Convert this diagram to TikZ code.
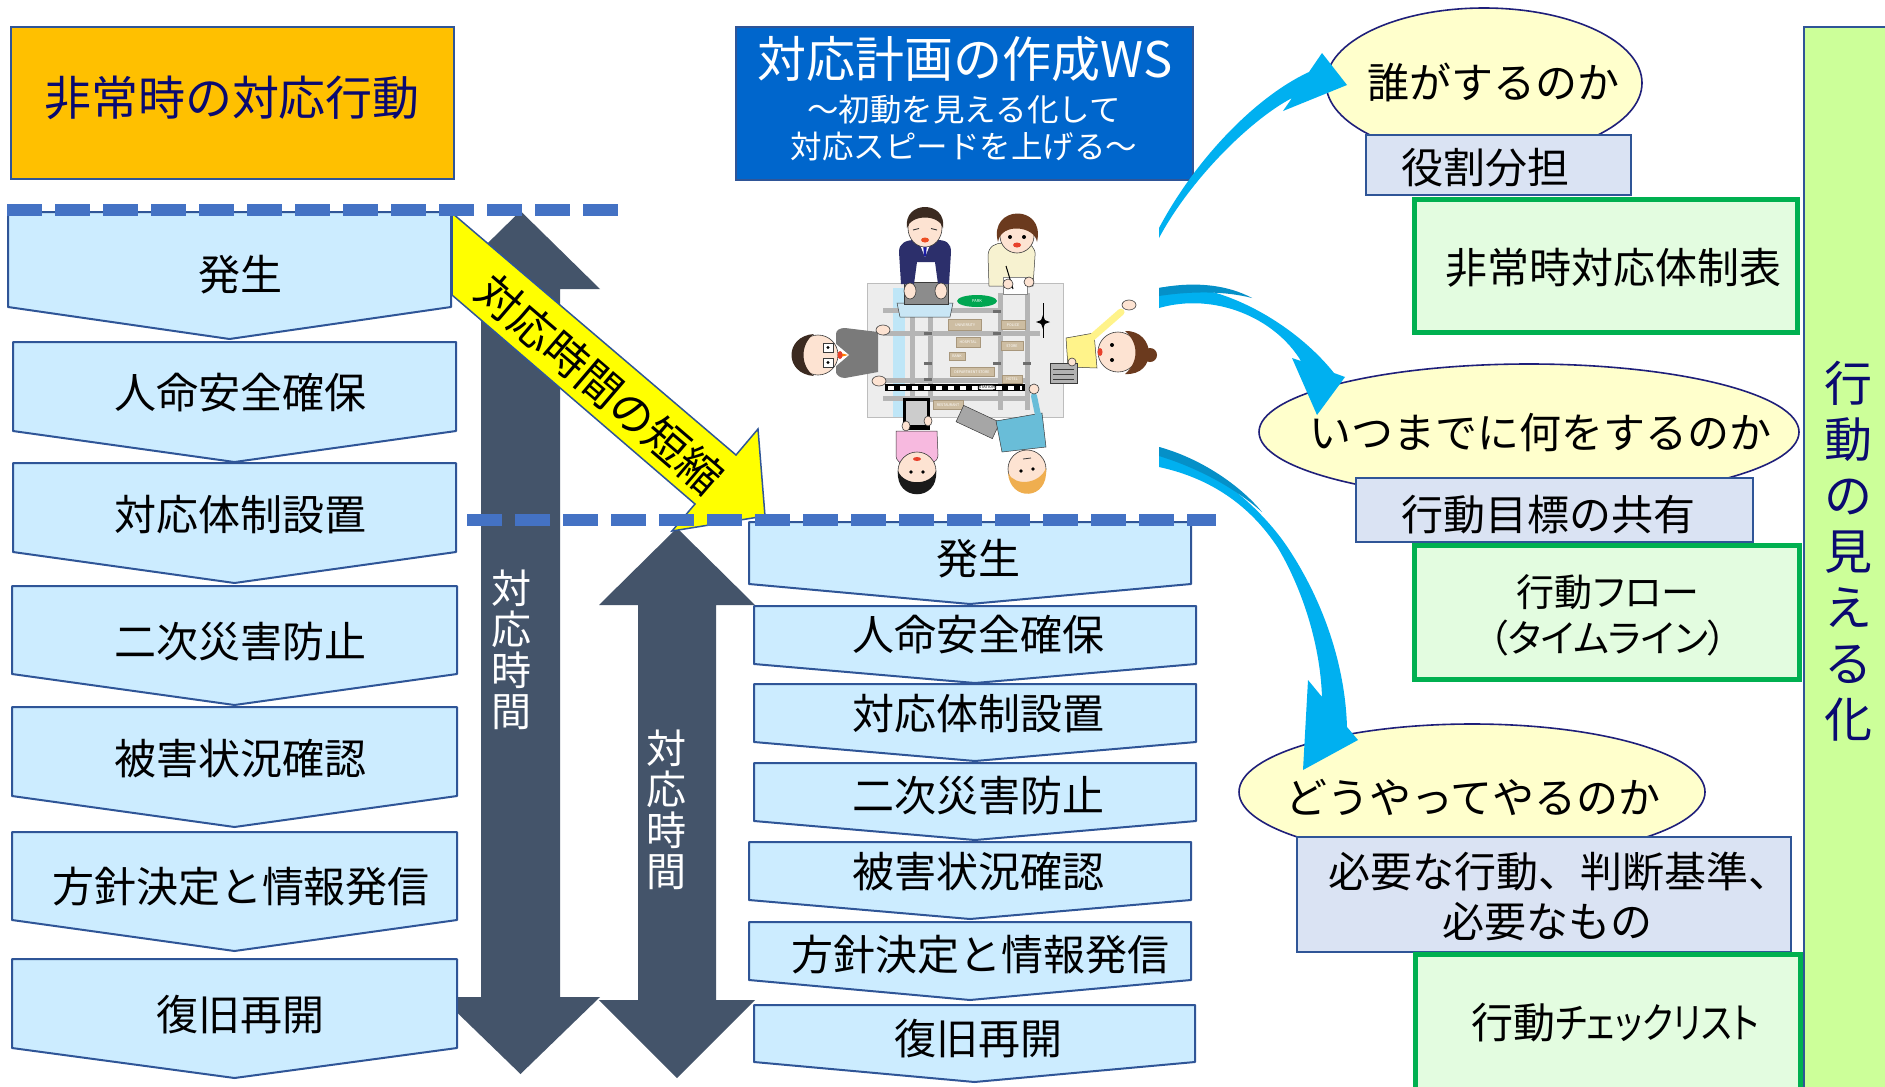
\documentclass[tikz,border=0pt]{standalone}
\usepackage{fontspec}
\setmainfont{Noto Sans CJK JP}
\newfontfamily\jpprop[RawFeature=+palt]{Noto Sans CJK JP}
\usetikzlibrary{shapes.geometric}

\definecolor{chevfill}{HTML}{CCECFF}
\definecolor{edgeblue}{HTML}{2F5597}
\definecolor{slate}{HTML}{44546A}
\definecolor{dashblue}{HTML}{4472C4}
\definecolor{orangeT}{HTML}{FFC000}
\definecolor{wsblue}{HTML}{0066CC}
\definecolor{creamY}{HTML}{FFFFCC}
\definecolor{ellEdge}{HTML}{1F1F7A}
\definecolor{lavender}{HTML}{DAE3F3}
\definecolor{greenEdge}{HTML}{00B050}
\definecolor{greenFill}{HTML}{E3FCE0}
\definecolor{barGreen}{HTML}{CCFF99}
\definecolor{navyText}{HTML}{0A0A70}
\definecolor{cyanArrow}{HTML}{00B0F0}
\definecolor{cyanDark}{HTML}{0590C8}
\definecolor{shortYellow}{HTML}{FFFF00}
% illustration colours
\definecolor{skin}{HTML}{FDE3D2}
\definecolor{outline}{HTML}{3A3A3A}
\definecolor{hairDark}{HTML}{3B2A20}
\definecolor{hairBrown}{HTML}{6B3A1E}
\definecolor{hairBlack}{HTML}{1A1A1A}
\definecolor{blonde}{HTML}{EFAE4F}
\definecolor{suitNavy}{HTML}{2C2F6B}
\definecolor{creamShirt}{HTML}{F7F2D0}
\definecolor{graySuit}{HTML}{7A7A7A}
\definecolor{yellowShirt}{HTML}{FFF38A}
\definecolor{pinkShirt}{HTML}{F7B9DF}
\definecolor{tealShirt}{HTML}{69BDD8}
\definecolor{tableGray}{HTML}{EDEDED}
\definecolor{tableEdge}{HTML}{BDBDBD}
\definecolor{roadGray}{HTML}{B5B5B5}
\definecolor{riverBlue}{HTML}{BFE6F7}
\definecolor{bldg}{HTML}{CDBDA2}
\definecolor{bldgEdge}{HTML}{A8977C}
\definecolor{parkGreen}{HTML}{00A651}
\definecolor{mouthRed}{HTML}{E8412C}
\definecolor{laptopGray}{HTML}{8C8C8C}
\definecolor{laptopLight}{HTML}{C9E6F5}

\tikzset{
  chevbox/.style={fill=chevfill, draw=edgeblue, line width=2pt, line join=round},
  chevtext/.style={font=\fontsize{42}{48}\selectfont, inner sep=0pt, text=black},
  vtext/.style={font=\fontsize{40}{41}\selectfont, text=white, align=center, inner sep=0pt},
  dashline/.style={draw=dashblue, line width=12pt, dash pattern=on 35pt off 13pt},
  ellbox/.style={fill=creamY, draw=ellEdge, line width=1.6pt},
  lavbox/.style={fill=lavender, draw=edgeblue, line width=2.2pt},
  grnbox/.style={fill=greenFill, draw=greenEdge, line width=5pt},
  bigtext/.style={font=\fontsize{42}{50}\selectfont, inner sep=0pt, align=center, text=black},
  road/.style={draw=roadGray, line width=5pt},
  bldgbox/.style={fill=bldg, draw=bldgEdge, line width=0.6pt, inner sep=0pt,
    text=white, font=\fontsize{3.6}{4}\selectfont},
  skinpart/.style={fill=skin, draw=outline, line width=0.6pt},
  tlight/.style={fill=roadGray!60!black, inner sep=0pt, minimum width=8pt, minimum height=3pt},
}

\newcommand\chevron[5]{%
  \draw[chevbox] (#1,#3) -- (#2,#3) -- (#2,#4) -- ({(#1+#2)/2},#5) -- (#1,#4) -- cycle;}

\begin{document}
\begin{tikzpicture}[x=1pt,y=-1pt]
\useasboundingbox (0,0) rectangle (1885,1087);
\fill[white] (0,0) rectangle (1885,1087);

% ---------- header of the left column ----------
\draw[fill=orangeT, draw=edgeblue, line width=2pt] (11,27) rectangle (454,179);
\node[font=\fontsize{47}{50}\selectfont, text=navyText, inner sep=0pt] (htitle) at (232,98) {非常時の対応行動};

% ---------- response-time arrows ----------
\fill[slate] (520.5,211) -- (600,289) -- (560,289) -- (560,997) -- (600,997) -- (520.5,1074)
  -- (441,997) -- (481,997) -- (481,289) -- (441,289) -- cycle;
\fill[slate] (677,528) -- (755,605) -- (716,605) -- (716,1000) -- (755,1000) -- (677,1078)
  -- (599,1000) -- (638,1000) -- (638,605) -- (599,605) -- cycle;

% ---------- left flow (before) ----------
\chevron{8}{451}{212}{307}{339}
\chevron{13}{456}{342}{431}{462}
\chevron{13}{456}{463}{552}{583}
\chevron{12}{457}{586}{674}{705}
\chevron{12}{457}{707}{796}{827}
\chevron{12}{457}{832}{920}{951}
\chevron{12}{457}{959}{1048}{1078}
\node[chevtext] (l1) at (240,275) {発生};
\node[chevtext] (l2) at (240,393) {人命安全確保};
\node[chevtext] (l3) at (240,515) {対応体制設置};
\node[chevtext] (l4) at (240,642) {二次災害防止};
\node[chevtext] (l5) at (240,759) {被害状況確認};
\node[chevtext] (l6) at (241,887) {方針決定と情報発信};
\node[chevtext] (l7) at (240,1015) {復旧再開};

% ---------- right flow (after) ----------
\chevron{749}{1191}{522}{584}{604}
\chevron{754}{1196}{606}{664}{683}
\chevron{754}{1196}{684}{742}{761}
\chevron{754}{1196}{763}{821}{840}
\chevron{749}{1191}{842}{900}{919}
\chevron{749}{1191}{922}{980}{1000}
\chevron{754}{1195}{1005}{1062}{1082}
\node[chevtext] (r1) at (978,559) {発生};
\node[chevtext] (r2) at (978,635) {人命安全確保};
\node[chevtext] (r3) at (978,714) {対応体制設置};
\node[chevtext] (r4) at (978,796) {二次災害防止};
\node[chevtext] (r5) at (978,872) {被害状況確認};
\node[chevtext] (r6) at (980,955) {方針決定と情報発信};
\node[chevtext] (r7) at (978,1039) {復旧再開};

% ---------- shortening arrow ----------
\draw[fill=shortYellow, draw=edgeblue, line width=1.5pt, line join=miter]
  (452,213) -- (736,455) -- (758,429) -- (765,516) -- (672,531) -- (695,504) -- (452,295) -- cycle;
\node[font=\fontsize{44}{48}\selectfont, inner sep=0pt, rotate=-40.6] (short) at (600,384) {対応時間の短縮};

% ---------- time-line markers ----------
\draw[dashline] (7,210) -- (619,210);
\draw[dashline] (467,520) -- (1216,520);

\node[vtext] (tl) at (511,650) {対\\応\\時\\間};
\node[vtext] (tr) at (666,810) {対\\応\\時\\間};

% ---------- workshop title ----------
\draw[fill=wsblue, draw=edgeblue, line width=1.5pt] (736,27) rectangle (1193,180);
\node[text=white, font=\fontsize{49}{52}\selectfont, inner sep=0pt] (wst) at (965,59) {対応計画の作成WS};
\node[text=white, font=\fontsize{31.5}{37}\selectfont, align=center, inner sep=0pt] (wss) at (964,128)
  {～初動を見える化して\\対応スピードを上げる～};

% ---------- workshop scene: people around a map ----------
\draw[fill=tableGray, draw=tableEdge, line width=1pt] (867,283) rectangle (1063,417);
\fill[riverBlue] (893,288) rectangle (905,417);
\draw[road] (883,310) -- (1000,310);
\draw[road] (883,333) -- (1040,333);
\draw[road] (883,380) -- (1027,380);
\draw[road] (883,398) -- (1027,398);
\draw[road] (912,317) -- (912,417);
\draw[road] (930,317) -- (930,402);
\draw[road] (1000,293) -- (1000,410);
\draw[road] (1027,293) -- (1027,410);
\node[ellipse, fill=parkGreen, minimum width=40pt, minimum height=12pt, inner sep=0pt,
  text=white, font=\fontsize{4}{4}\selectfont] (park) at (977,301) {PARK};
\node[bldgbox, minimum width=33pt, minimum height=11pt] (univ) at (965,325) {UNIVERSITY};
\node[bldgbox, minimum width=24pt, minimum height=9pt] (police) at (1013,325) {POLICE};
\node[bldgbox, minimum width=24pt, minimum height=10pt] (hosp) at (968,342) {HOSPITAL};
\node[bldgbox, minimum width=22pt, minimum height=9pt] (store) at (1012,346) {STORE};
\node[bldgbox, minimum width=16pt, minimum height=8pt] (bank) at (957,356) {BANK};
\node[bldgbox, minimum width=44pt, minimum height=9pt] (dept) at (972,372) {DEPARTMENT STORE};
\node[bldgbox, minimum width=20pt, minimum height=8pt] (hotel) at (1012,379) {HOTEL};
\node[bldgbox, minimum width=30pt, minimum height=9pt] (rest) at (948,405) {RESTAURANT};
\fill[black] (885,384) rectangle (1025,391);
\draw[white, line width=4pt, dash pattern=on 6pt off 6pt] (888,387.5) -- (1022,387.5);
\node[draw=black, fill=white, rounded corners=3pt, inner sep=0.8pt, font=\fontsize{4}{4}\selectfont] (stn) at (987,387.5) {STATION};
\node[tlight] (tl1) at (997,311) {};
\node[tlight] (tl2) at (928,333) {};
\node[tlight] (tl3) at (997,333) {};
\node[tlight] (tl4) at (928,363) {};
\node[tlight] (tl5) at (997,363) {};
\node[tlight] (tl6) at (1027,363) {};
\node[tlight] (tl7) at (928,379) {};
\draw[black, line width=0.8pt] (1043,303) -- (1043,338);
\node[star, star points=4, star point ratio=2.6, fill=black, minimum size=14pt, inner sep=0pt] (compass) at (1043,322) {};

% man at the laptop
\fill[laptopLight, draw=outline, line width=0.5pt] (897,303) -- (953,303) -- (950,317) -- (900,317) -- cycle;
\fill[laptopGray, draw=outline, line width=0.5pt] (904,282) rectangle (948,304);
\fill[suitNavy] (901,284) -- (899,252) .. controls (899,243) and (906,240) .. (915,240) -- (937,240)
  .. controls (946,240) and (951,243) .. (951,252) -- (949,284) -- (938,284) -- (935,262) -- (917,262) -- (914,284) -- cycle;
\fill[white] (918,240) -- (932,240) -- (925,257) -- cycle;
\fill[suitNavy!60!blue] (923,243) -- (927,243) -- (926,256) -- (924,256) -- cycle;
\fill[skinpart] (910,291) ellipse [x radius=6pt, y radius=8pt];
\fill[skinpart] (941,291) ellipse [x radius=6pt, y radius=8pt];
\draw[skinpart] (925,228) ellipse [x radius=17pt, y radius=19pt];
\fill[hairDark] (907,228) .. controls (903,200) and (947,200) .. (943,228) .. controls (939,214) and (911,214) .. (907,228) -- cycle;
\draw[outline, line width=0.9pt] (913,230) -- (919,228.5) (931,228.5) -- (937,230);
\fill[mouthRed!80!orange] (925,240) ellipse [x radius=4pt, y radius=2.5pt];

% woman writing notes
\fill[creamShirt, draw=outline, line width=0.5pt] (989,286) -- (988,256) .. controls (988,246) and (996,243) .. (1003,243)
  -- (1022,243) .. controls (1031,243) and (1036,248) .. (1035,256) -- (1033,286) -- cycle;
\fill[white, draw=outline!60, line width=0.5pt] (1003,277) rectangle (1027,294);
\draw[black, line width=1pt] (1006,266) -- (1013,289);
\fill[skinpart] (1008,284) circle [radius=5pt];
\fill[skinpart] (1029,282) circle [radius=5pt];
\draw[skinpart] (1017,236) circle [radius=17pt];
\fill[hairBrown] (998,242) .. controls (988,205) and (1046,203) .. (1037,242) .. controls (1035,226) and (1001,222) .. (998,242) -- cycle;
\fill[black] (1010,237) circle [radius=2pt] (1024,237) circle [radius=2pt];
\fill[mouthRed] (1017,245) ellipse [x radius=4pt, y radius=2.5pt];

% man with glasses
\fill[graySuit] (836,334) .. controls (836,330) and (840,328) .. (845,328) -- (878,332) -- (878,372) -- (845,378)
  .. controls (840,378) and (836,375) .. (836,372) -- cycle;
\fill[white] (836,344) -- (849,355) -- (836,366) -- cycle;
\fill[orange] (837,352) -- (848,355) -- (837,358) -- cycle;
\fill[skinpart] (883,330) ellipse [x radius=7pt, y radius=5pt];
\fill[skinpart] (879,381) ellipse [x radius=7pt, y radius=5pt];
\draw[skinpart] (818,355) circle [radius=20pt];
\fill[hairDark] (814,334) .. controls (784,336) and (784,374) .. (814,376) .. controls (800,366) and (800,344) .. (814,334) -- cycle;
\draw[outline, fill=white, line width=0.7pt] (823,343) rectangle (833,352) (823,358) rectangle (833,367);
\fill[black] (828,347.5) circle [radius=1.6pt] (828,362.5) circle [radius=1.6pt];
\fill[mouthRed] (840,355) ellipse [x radius=2.5pt, y radius=4pt];

% woman waving
\fill[yellowShirt, draw=outline, line width=0.5pt] (1066,338) -- (1094,333) -- (1097,368) -- (1068,367) -- cycle;
\draw[yellowShirt, line width=7pt, line cap=round] (1089,340) -- (1121,312);
\fill[skinpart] (1129,305) ellipse [x radius=7pt, y radius=5pt];
\fill[gray!60, draw=outline, line width=0.5pt] (1050,363) rectangle (1077,383);
\draw[outline, line width=0.4pt] (1053,369) -- (1074,369) (1053,374) -- (1074,374) (1053,379) -- (1074,379);
\fill[skinpart] (1072,362) circle [radius=4pt];
\draw[skinpart] (1118,352) circle [radius=20pt];
\fill[hairBrown] (1125,331) .. controls (1156,330) and (1158,376) .. (1125,374) .. controls (1139,362) and (1139,343) .. (1125,331) -- cycle;
\fill[hairBrown] (1150,355) circle [radius=7pt];
\fill[black] (1112,345) circle [radius=2pt] (1112,360) circle [radius=2pt];
\fill[mouthRed] (1100,352) ellipse [x radius=2.5pt, y radius=4pt];

% woman with a tablet
\fill[black] (903,398) rectangle (930,430);
\fill[gray!40] (906,401) rectangle (927,425);
\fill[skinpart] (906,426) ellipse [x radius=4pt, y radius=5pt];
\fill[skinpart] (928,421) ellipse [x radius=4pt, y radius=5pt];
\fill[pinkShirt, draw=outline, line width=0.5pt] (896,431) -- (937,431) -- (938,455) .. controls (938,462) and (930,465) .. (925,465)
  -- (908,465) .. controls (902,465) and (896,462) .. (896,455) -- cycle;
\draw[skinpart] (917,471) circle [radius=19pt];
\fill[hairBlack] (898,471) .. controls (895,502) and (939,502) .. (936,471) .. controls (930,486) and (904,486) .. (898,471) -- cycle;
\fill[black] (911,472) circle [radius=1.8pt] (923,472) circle [radius=1.8pt];
\fill[mouthRed] (917,459) ellipse [x radius=4pt, y radius=2pt];

% person with a binder
\fill[gray!70, draw=outline, line width=0.5pt, rotate around={-25:(978,422)}] (958,413) rectangle (998,431);
\fill[tealShirt, draw=outline, line width=0.5pt] (996,421) -- (1042,413) -- (1046,447) -- (1002,452) -- cycle;
\draw[tealShirt, line width=6pt, line cap=round] (1038,415) -- (1034,396);
\fill[skinpart] (1034,389) circle [radius=5pt];
\draw[skinpart] (1027,469) circle [radius=19pt];
\fill[blonde] (1008,473) .. controls (1010,502) and (1049,501) .. (1046,468) .. controls (1040,484) and (1015,487) .. (1008,473) -- cycle;
\fill[black] (1021,471) circle [radius=1.8pt] (1033,469) circle [radius=1.8pt];
\draw[outline, line width=0.8pt] (1023,459) -- (1031,458);

% ---------- questions and outputs ----------
\draw[ellbox] (1484,83) ellipse [x radius=158pt, y radius=75pt];
\node[bigtext] (who) at (1493,82) {誰がするのか};
\draw[lavbox] (1366,135) rectangle (1631,195);
\node[bigtext] (role) at (1485,168) {役割分担};
\draw[grnbox] (1414.5,199.5) rectangle (1797.5,332.5);
\node[bigtext] (table) at (1613,268) {非常時対応体制表};

\draw[ellbox] (1529,432) ellipse [x radius=270pt, y radius=68pt];
\node[bigtext] (when) at (1540,433) {いつまでに何をするのか};
\draw[lavbox] (1356,478) rectangle (1753,542);
\node[bigtext] (goal) at (1548,515) {行動目標の共有};
\draw[grnbox] (1414.5,545.5) rectangle (1799.5,679.5);
\node[font=\jpprop\fontsize{38}{46}\selectfont, align=center, inner sep=0pt] (flow) at (1608,615) {行動フロー\\（タイムライン）};

\draw[ellbox] (1472,792) ellipse [x radius=233pt, y radius=68pt];
\node[bigtext] (how) at (1473,797) {どうやってやるのか};
\draw[lavbox] (1297,837) rectangle (1791,952);
\node[bigtext] (needa) at (1559,872) {必要な行動、判断基準、};
\node[bigtext] (needb) at (1547,922) {必要なもの};
\draw[grnbox] (1415.5,954.5) rectangle (1800.5,1100);
\node[font=\jpprop\fontsize{42}{50}\selectfont, inner sep=0pt] (check) at (1615,1023) {行動\scalebox{0.82}[1]{チェックリスト}};

% ---------- curved arrows from the scene ----------
\fill[cyanArrow] (1159,228) .. controls (1195,160) and (1255,97) .. (1309,72) -- (1322,53) -- (1347,85) -- (1283,111)
  -- (1292,98) .. controls (1250,120) and (1190,180) .. (1159,238) -- cycle;
\fill[cyanArrow] (1159,288) .. controls (1210,278) and (1290,318) .. (1334,373) -- (1345,377) -- (1317,415) -- (1292,358)
  -- (1301,361) .. controls (1275,318) and (1215,292) .. (1159,308) -- cycle;
\fill[cyanDark] (1159,288) .. controls (1195,281) and (1228,285) .. (1252,298) .. controls (1225,291) and (1192,291) .. (1159,296) -- cycle;
\fill[cyanArrow] (1159,447) .. controls (1200,460) and (1255,500) .. (1286,545) .. controls (1320,595) and (1345,660) .. (1347,727)
  -- (1358,740) -- (1303,770) -- (1308,680) -- (1322,697) .. controls (1320,640) and (1300,585) .. (1278,548)
  .. controls (1250,505) and (1210,478) .. (1159,467) -- cycle;
\fill[cyanDark] (1159,447) .. controls (1200,458) and (1240,485) .. (1262,512) .. controls (1235,488) and (1198,468) .. (1159,456) -- cycle;

% ---------- side banner ----------
\draw[fill=barGreen, draw=edgeblue, line width=2pt] (1804,27) rectangle (1895,1100);
\node[font=\fontsize{48}{56}\selectfont, text=navyText, align=center, inner sep=0pt] (visible) at (1848,551)
  {行\\動\\の\\見\\え\\る\\化};
\end{tikzpicture}
\end{document}
